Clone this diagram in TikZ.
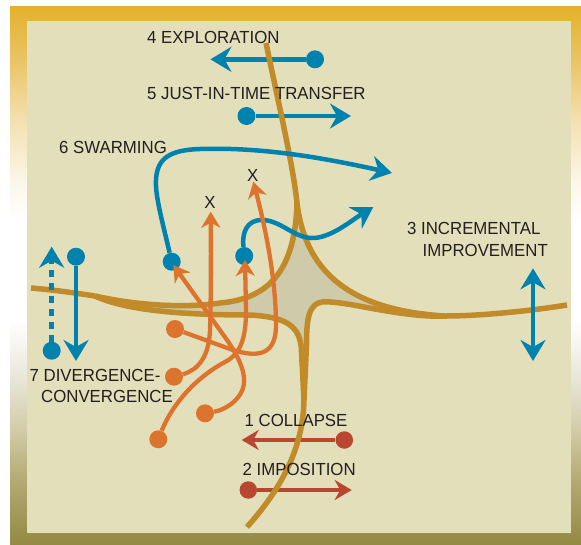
\documentclass[tikz,border=0pt]{standalone}
\usepackage{fontspec}
\setmainfont{Liberation Sans}[FakeStretch=0.96]
\usetikzlibrary{arrows.meta}
\definecolor{panel}{RGB}{228,223,187}
\definecolor{starfill}{RGB}{207,202,170}
\definecolor{road}{RGB}{192,139,40}
\definecolor{myblue}{RGB}{0,130,175}
\definecolor{myorange}{RGB}{221,116,45}
\definecolor{myred}{RGB}{185,70,48}
\definecolor{txt}{RGB}{35,31,32}
\definecolor{ftop}{RGB}{227,177,42}
\definecolor{ftwo}{RGB}{234,196,100}
\definecolor{fthree}{RGB}{244,224,175}
\definecolor{ffour}{RGB}{252,246,232}
\definecolor{ffive}{RGB}{232,229,215}
\definecolor{fsix}{RGB}{210,203,168}
\definecolor{fseven}{RGB}{180,170,115}
\definecolor{fbot}{RGB}{148,138,68}
\pgfdeclareverticalshading{frameshade}{100bp}{color(0bp)=(fbot); color(25bp)=(fbot); color(31bp)=(fseven); color(35.6bp)=(fsix); color(40.2bp)=(ffive); color(45.8bp)=(white); color(55.1bp)=(white); color(58.8bp)=(ffour); color(64.4bp)=(fthree); color(70bp)=(ftwo); color(75bp)=(ftop); color(100bp)=(ftop)}
\begin{document}
\begin{tikzpicture}[x=1pt,y=-1pt,
  bdot/.style={circle, fill=myblue, minimum size=18pt, inner sep=0pt},
  odot/.style={circle, fill=myorange, minimum size=18pt, inner sep=0pt},
  rdot/.style={circle, fill=myred, minimum size=17.5pt, inner sep=0pt},
  barrow/.style={draw=myblue, line width=4.5pt, -{Stealth[length=21pt,width=25pt,inset=7pt]}},
  bdouble/.style={draw=myblue, line width=4.5pt, {Stealth[length=21pt,width=25pt,inset=7pt]}-{Stealth[length=21pt,width=25pt,inset=7pt]}},
  oarrow/.style={draw=myorange, line width=4.3pt, -{Stealth[length=16pt,width=19pt,inset=5pt]}},
  rarrow/.style={draw=myred, line width=4pt, -{Stealth[length=17pt,width=20pt,inset=5.5pt]}},
  roadline/.style={draw=road, line width=5.5pt},
  lbl/.style={font=\fontsize{17.5}{21}\selectfont, text=txt, inner sep=0pt, anchor=base west},
  xlbl/.style={font=\fontsize{17.5}{21}\selectfont, text=txt, inner sep=0pt}]
\useasboundingbox (0,0) rectangle (581,544);
\fill[white] (0,0) rectangle (581,544);
\shade[shading=frameshade] (10,6) rectangle (581,544);
\fill[panel] (26.7,20.7) rectangle (570.7,532.7);

% 4 exploration, 5 just-in-time transfer
\node[bdot] (e0) at (315,59.3) {};
\coordinate (e1) at (210.4,59.3);
\draw[barrow] (e0) -- (e1);
\node[bdot] (j0) at (246.5,116) {};
\coordinate (j1) at (351,116);
\draw[barrow] (j0) -- (j1);

% 1 collapse, 2 imposition
\node[rdot] (c0) at (344.3,440) {};
\coordinate (c1) at (241.7,440);
\draw[rarrow] (c0) -- (c1);
\node[rdot] (m0) at (248.3,490) {};
\coordinate (m1) at (351.7,490);
\draw[rarrow] (m0) -- (m1);

% roads
\coordinate (Tend) at (266,43);
\coordinate (Ttip) at (297,203);
\coordinate (Lend) at (31,288);
\coordinate (Ltip) at (95,296);
\coordinate (Rend) at (567,305);
\coordinate (Rtip) at (445,316);
\coordinate (Bend) at (247,527);
\coordinate (Btip) at (304,400);
\fill[starfill] (Btip) -- (301.5,352) .. controls (301,325) and (285,317) .. (250,315)
  .. controls (180,315) and (125,310) .. (Ltip)
  .. controls (130,304) and (180,309) .. (220,303) .. controls (265,299) and (295,275) .. (Ttip)
  .. controls (305,268) and (345,310) .. (Rtip)
  .. controls (400,318) and (345,300) .. (322,302) .. controls (309,304) and (306.5,318) .. (306.5,345) -- cycle;
\draw[roadline] (Tend) .. controls (280,110) and (293,165) .. (Ttip);
\draw[roadline] (Lend) .. controls (55,290) and (75,293) .. (Ltip);
\draw[roadline] (Rtip) .. controls (480,316) and (530,311) .. (Rend);
\draw[roadline] (Btip) .. controls (303,450) and (280,490) .. (Bend);
\draw[roadline] (Ltip) .. controls (130,304) and (180,309) .. (220,303) .. controls (265,299) and (295,275) .. (Ttip);
\draw[roadline] (Ttip) .. controls (305,268) and (345,310) .. (Rtip);
\draw[roadline] (Rtip) .. controls (400,318) and (345,300) .. (322,302) .. controls (309,304) and (306.5,318) .. (306.5,345) -- (Btip);
\draw[roadline] (Ltip) .. controls (125,310) and (180,315) .. (250,315) .. controls (285,317) and (301,325) .. (301.5,352) -- (Btip);

% 6 swarming
\node[bdot] (s1) at (171.7,261.7) {};
\coordinate (s1e) at (392,173);
\draw[barrow] (s1) .. controls (162,220) and (155,195) .. (156,180) .. controls (157,158) and (170,150) .. (200,149) .. controls (260,147) and (320,157) .. (s1e);
\node[bdot] (s2) at (244.2,256) {};
\coordinate (s2e) at (373.3,207);
\draw[barrow] (s2) .. controls (242,232) and (247,220) .. (262,220) .. controls (280,220) and (293,237) .. (311,238) .. controls (330,239) and (352,220) .. (s2e);

% 3 incremental improvement
\coordinate (i0) at (533,268.3);
\coordinate (i1) at (533,361);
\draw[bdouble] (i0) -- (i1);

% 7 divergence-convergence
\node[bdot] (d1) at (51.7,350.7) {};
\coordinate (d1e) at (51.7,246.7);
\draw[barrow, dash pattern=on 7pt off 6pt] (d1) -- (d1e);
\node[bdot] (d2) at (76,256.7) {};
\coordinate (d2e) at (76,361);
\draw[barrow] (d2) -- (d2e);

% orange paths
\node[odot] (o1) at (175,329) {};
\node[odot] (o2) at (174,376.7) {};
\node[odot] (o3) at (205,413.3) {};
\node[odot] (o4) at (158.3,439.3) {};
\coordinate (x1t) at (210.7,211.7);
\coordinate (x2t) at (253.3,181.7);
\coordinate (s1t) at (173.3,265);
\coordinate (s2t) at (245,260);
\draw[oarrow] (o1) -- (230,349) .. controls (262,360) and (276,352) .. (276,325) .. controls (276,280) and (266,230) .. (x2t);
\draw[oarrow] (o2) .. controls (198,370) and (209,357) .. (210,330) .. controls (211,300) and (211,250) .. (x1t);
\draw[oarrow] (o3) .. controls (225,410) and (246,398) .. (244,378) .. controls (243,366) and (236,352) .. (222,333) -- (s1t);
\draw[oarrow] (o4) .. controls (172,405) and (195,378) .. (225,362) .. controls (240,354) and (246,340) .. (246,310) -- (s2t);

% labels
\node[xlbl] (xa) at (210,202.7) {X};
\node[xlbl] (xb) at (252.7,175.7) {X};
\node[lbl] (t4) at (147,43.3) {4 EXPLORATION};
\node[lbl] (t5) at (147,99.3) {5 JUST-IN-TIME TRANSFER};
\node[lbl] (t6) at (59,153.3) {6 SWARMING};
\node[lbl] (t3a) at (407,234.3) {3 INCREMENTAL};
\node[lbl] (t3b) at (422.5,256) {IMPROVEMENT};
\node[lbl] (t7a) at (29.5,381.7) {7 DIVERGENCE-};
\node[lbl] (t7b) at (41,402.7) {CONVERGENCE};
\node[lbl] (t1) at (244.5,426) {1 COLLAPSE};
\node[lbl] (t2) at (242.5,475) {2 IMPOSITION};
\end{tikzpicture}
\end{document}
